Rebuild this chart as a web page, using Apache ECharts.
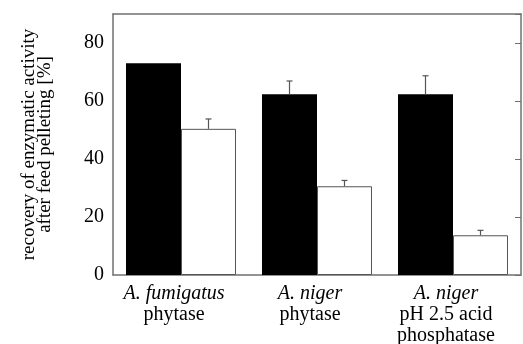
<!DOCTYPE html>
<html>
<head>
<meta charset="utf-8">
<script src="https://cdn.jsdelivr.net/npm/echarts@6/dist/echarts.min.js"></script>
<style>
  html, body { margin: 0; padding: 0; background: #fff; }
  #chart { width: 523px; height: 344px; }
</style>
</head>
<body>
<div id="chart"></div>
<script>
// Enzyme groups (first line italic species name, then enzyme)
const species = ['A. fumigatus', 'A. niger', 'A. niger'];
const enzymes = ['phytase', 'phytase', 'pH 2.5 acid\nphosphatase'];

// Recovery of enzymatic activity [%]
const blackValues = [73, 62.3, 62.3];
const whiteValues = [50.4, 30.6, 13.7];

// Upper error (standard deviation) for each bar
const blackErrors = [0, 4.6, 6.4];
const whiteErrors = [3.4, 2.0, 1.7];

const yTicks = [0, 20, 40, 60, 80];

const frameColor = '#707070';
const barWidth = 55;

const categories = species.map((s, i) => s + '|' + enzymes[i]);

// Error-bar points: [category index, value, error, side (-1 left bar, +1 right bar)]
const errorPoints = [];
blackValues.forEach((v, i) => { if (blackErrors[i] > 0) errorPoints.push([i, v, blackErrors[i], -1]); });
whiteValues.forEach((v, i) => { if (whiteErrors[i] > 0) errorPoints.push([i, v, whiteErrors[i], 1]); });

const chart = echarts.init(document.getElementById('chart'), null, { renderer: 'canvas' });

chart.setOption({
  animation: false,
  backgroundColor: '#fff',
  grid: { left: 113, right: 2, top: 14, bottom: 69, containLabel: false, outerBoundsMode: 'none' },
  xAxis: [
    {
      type: 'category',
      data: categories,
      position: 'bottom',
      axisLine: { onZero: false, lineStyle: { color: frameColor, width: 1.5 } },
      axisTick: { inside: true, length: 5, lineStyle: { color: frameColor } },
      axisLabel: {
        margin: 8,
        interval: 0,
        padding: [0, 14, 0, 0],
        formatter: function (val) {
          const parts = val.split('|');
          return '{i|' + parts[0] + '}\n' + parts[1].split('\n').map(t => '{n|' + t + '}').join('\n');
        },
        rich: {
          i: { fontFamily: 'Liberation Serif', fontStyle: 'italic', fontSize: 20, lineHeight: 21, color: '#000' },
          n: { fontFamily: 'Liberation Serif', fontSize: 20, lineHeight: 21, color: '#000' }
        }
      }
    },
    {
      type: 'category',
      data: categories,
      position: 'top',
      axisLine: { show: true, onZero: false, lineStyle: { color: frameColor, width: 1.5 } },
      axisTick: { inside: true, length: 5, lineStyle: { color: frameColor } },
      axisLabel: { show: false }
    }
  ],
  yAxis: [
    {
      type: 'value',
      min: 0,
      max: 90,
      interval: 20,
      position: 'left',
      name: 'recovery of enzymatic activity\nafter feed pelleting [%]',
      nameLocation: 'middle',
      nameRotate: 90,
      nameGap: 60,
      nameTextStyle: { fontFamily: 'Liberation Serif', fontSize: 19, lineHeight: 16, color: '#000' },
      axisLine: { show: true, onZero: false, lineStyle: { color: frameColor, width: 1.5 } },
      axisTick: { show: false },
      splitLine: { show: false },
      axisLabel: {
        margin: 9,
        fontFamily: 'Liberation Serif',
        fontSize: 20,
        color: '#000',
        formatter: v => (yTicks.includes(v) ? String(v) : '')
      }
    },
    {
      type: 'value',
      min: 0,
      max: 90,
      interval: 20,
      position: 'right',
      axisLine: { show: true, onZero: false, lineStyle: { color: frameColor, width: 1.5 } },
      axisTick: { show: true, inside: true, length: 6, lineStyle: { color: frameColor } },
      axisLabel: { show: false },
      splitLine: { show: false }
    }
  ],
  series: [
    {
      name: 'black',
      type: 'bar',
      data: blackValues,
      barWidth: barWidth,
      barGap: '0%',
      itemStyle: { color: '#000' },
      z: 2
    },
    {
      name: 'white',
      type: 'bar',
      data: whiteValues,
      barWidth: barWidth,
      barGap: '0%',
      itemStyle: { color: '#fff', borderColor: '#555', borderWidth: 1 },
      z: 2
    },
    {
      name: 'error',
      type: 'custom',
      data: errorPoints,
      z: 3,
      renderItem: function (params, api) {
        const cat = api.value(0);
        const val = api.value(1);
        const err = api.value(2);
        const side = api.value(3);
        const base = api.coord([cat, val]);
        const top = api.coord([cat, val + err]);
        const x = base[0] + side * barWidth / 2;
        const cap = 3;
        const color = '#555';
        return {
          type: 'group',
          children: [
            { type: 'line', shape: { x1: x, y1: base[1], x2: x, y2: top[1] }, style: { stroke: color, lineWidth: 1.2 } },
            { type: 'line', shape: { x1: x - cap, y1: top[1], x2: x + cap, y2: top[1] }, style: { stroke: color, lineWidth: 1.2 } }
          ]
        };
      }
    }
  ]
});
</script>
</body>
</html>
